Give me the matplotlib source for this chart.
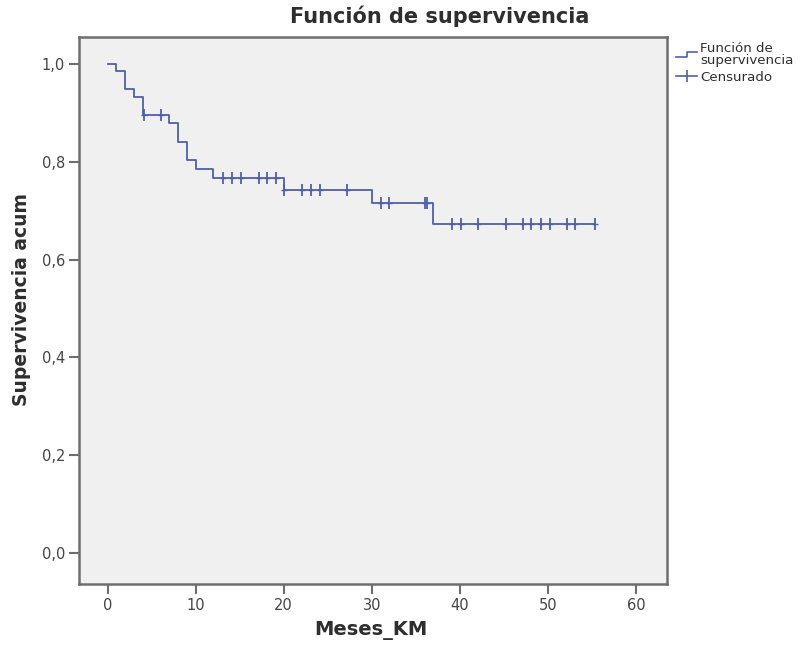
import numpy as np
import matplotlib
matplotlib.use("Agg")
import matplotlib.pyplot as plt
from matplotlib.lines import Line2D
from matplotlib.legend_handler import HandlerLine2D
from matplotlib.ticker import FuncFormatter

# Kaplan-Meier step data
step_times = [0, 1, 2, 3, 4, 7, 8, 9, 10, 12, 20, 30, 37]
step_surv = [1.0, 0.985, 0.949, 0.932, 0.896, 0.879, 0.841, 0.803, 0.786, 0.766, 0.742, 0.715, 0.673]
censor_times = [4.1, 6.1, 13.1, 14.1, 15.1, 17.2, 18.1, 19.1, 20.0, 22.1, 23.1, 24.1, 27.2,
                31.1, 32.0, 36.0, 36.3, 39.1, 40.1, 42.1, 45.2, 47.2, 48.1, 49.2, 50.2,
                52.1, 53.1, 55.3]
end_time = 55.3

x_ticks = [0, 10, 20, 30, 40, 50, 60]
y_ticks = [0.0, 0.2, 0.4, 0.6, 0.8, 1.0]

line_color = "#4f5fab"
bg = "#f0f0f0"
frame = "#6e6e6e"
txt = "#2e2e2e"

plt.rcParams['font.family'] = ['DejaVu Sans']

W, H = 801, 646
fig = plt.figure(figsize=(W/100, H/100), dpi=100)
L, R, T, B = 79, 667, 37, 584
ax = fig.add_axes([L/W, 1-B/H, (R-L)/W, (B-T)/H])
ax.set_facecolor(bg)

xs = list(step_times) + [end_time]
ys = list(step_surv) + [step_surv[-1]]
ax.step(xs, ys, where='post', color=line_color, lw=1.3)

idx = np.searchsorted(step_times, censor_times, side='right') - 1
cy = np.array(step_surv)[idx]
ax.plot(censor_times, cy, linestyle='none', marker='|', markersize=8,
        markeredgewidth=1.3, color=line_color)
ax.plot(censor_times, cy, linestyle='none', marker='_', markersize=5,
        markeredgewidth=1.0, color=line_color)

# x: 0 at px 107.5, 10 units = 88.1 px ; y: 1.0 at px 64, 0.0 at px 553
ax.set_xlim(-(107.5-L)/8.81, (R-107.5)/8.81)
ax.set_ylim(-(B-553)/489, 1+(64-T)/489)
ax.set_xticks(x_ticks)
ax.set_yticks(y_ticks)
ax.yaxis.set_major_formatter(FuncFormatter(lambda v, p: f"{v:.1f}".replace('.', ',')))
ax.tick_params(direction='out', length=7, width=1.5, color=frame, labelcolor="#444444",
               labelsize=10.5, pad=3)
for s in ax.spines.values():
    s.set_color(frame)
    s.set_linewidth(1.8)

fig.text(371/W, 1-630/H, "Meses_KM", ha='center', va='center',
         fontsize=14, fontweight='bold', color=txt)
fig.text(22/W, 1-300/H, "Supervivencia acum", ha='center', va='center', rotation=90,
         fontsize=13.5, fontweight='bold', color=txt)
fig.text(440/W, 1-16/H, "Función de supervivencia", ha='center', va='center',
         fontsize=15, fontweight='bold', color=txt)


class StepHandler(HandlerLine2D):
    def create_artists(self, legend, orig_handle, xdescent, ydescent, width, height,
                       fontsize, trans):
        x0 = -xdescent
        y0 = -ydescent
        xd = [x0, x0 + width * 0.5, x0 + width * 0.5, x0 + width]
        yd = [y0 + height * 0.35, y0 + height * 0.35, y0 + height * 0.85, y0 + height * 0.85]
        l = Line2D(xd, yd, color=orig_handle.get_color(), lw=1.2, transform=trans)
        return [l]


h1 = Line2D([], [], color=line_color, lw=1.2)
h2 = Line2D([], [], color=line_color, lw=1.2, marker='|', markersize=8, markeredgewidth=1.2)
leg = fig.legend([h1, h2], ["Función de\nsupervivencia", "Censurado"],
                 loc='upper left', bbox_to_anchor=(667/W, 1-33/H), frameon=False,
                 fontsize=9.6, handlelength=1.55, handletextpad=0.25, labelspacing=0.25,
                 borderpad=0.2,
                 handler_map={h1: StepHandler()})
for t in leg.get_texts():
    t.set_color(txt)
    t.set_linespacing(0.9)

fig.savefig("out.png", dpi=100, facecolor='white')
